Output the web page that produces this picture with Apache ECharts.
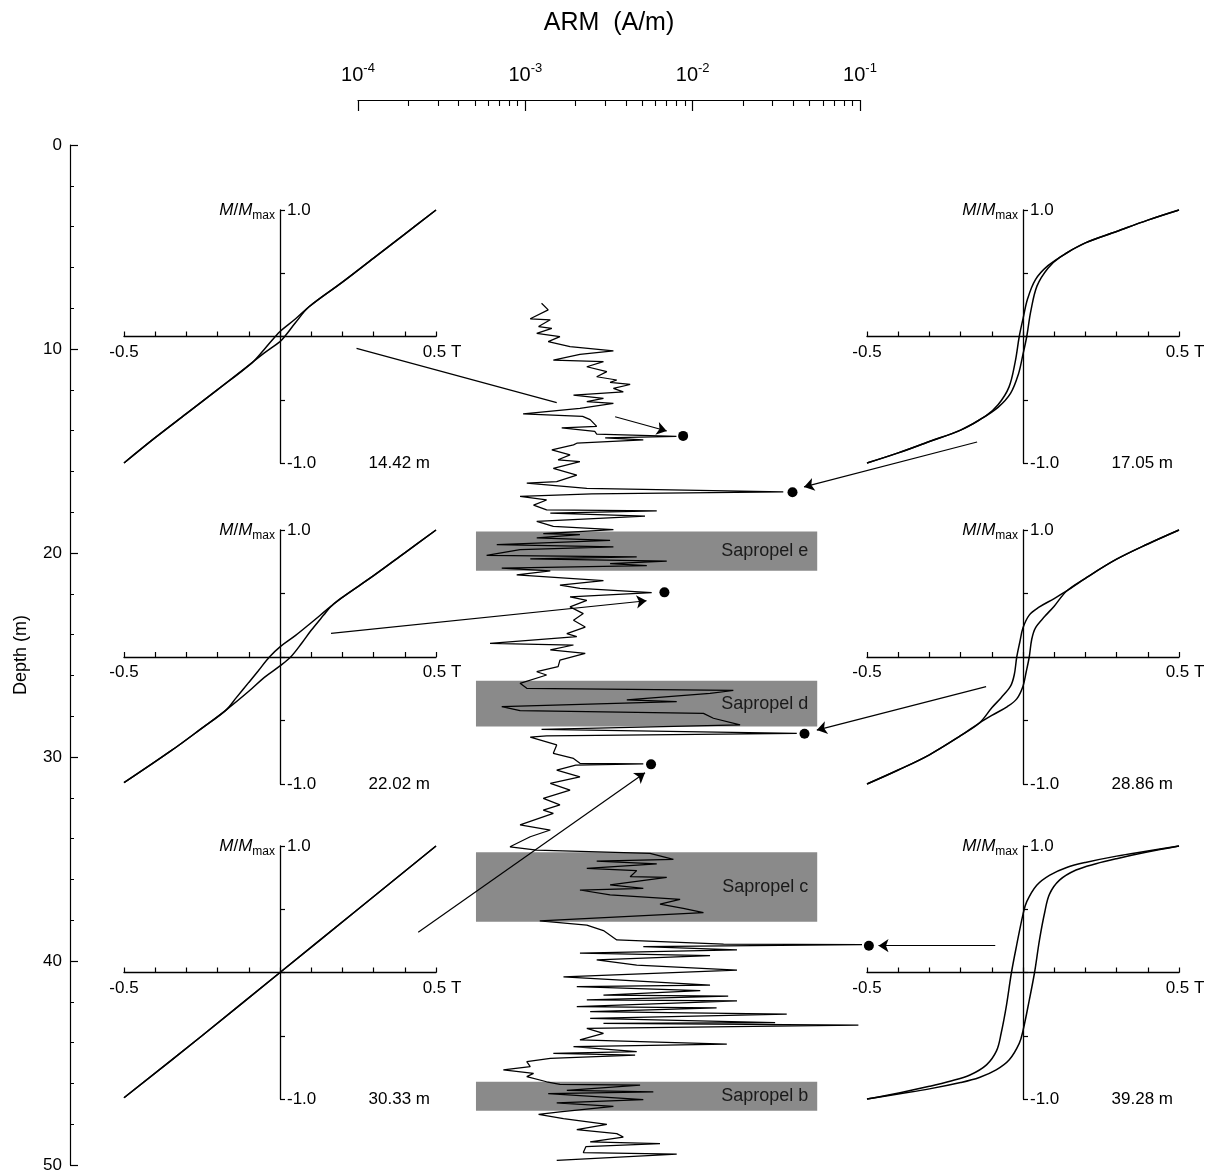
<!DOCTYPE html>
<html>
<head>
<meta charset="utf-8">
<script src="https://cdn.jsdelivr.net/npm/echarts@6/dist/echarts.min.js"></script>
<style>
  html, body { margin: 0; padding: 0; background: #fff; }
  #chart { width: 1211px; height: 1176px; }
</style>
</head>
<body>
<div id="chart"></div>
<script>
// ARM down-core log (depth in m, ARM in A/m)
const armDepth = [
  7.76, 8.08, 8.52, 8.57, 8.90, 8.99, 9.23, 9.39, 9.64, 9.88,
  10.09, 10.26, 10.54, 10.62, 10.87, 11.11, 11.36, 11.52, 11.64, 11.74,
  11.93, 12.10, 12.26, 12.42, 12.58, 12.66, 12.91, 13.18, 13.30, 13.46,
  13.79, 13.87, 14.04, 14.17, 14.28, 14.36, 14.46, 14.62, 14.70, 14.94,
  15.19, 15.43, 15.52, 15.85, 16.18, 16.50, 16.58, 16.83, 17.00, 17.10,
  17.23, 17.40, 17.65, 17.89, 17.94, 18.05, 18.19, 18.45, 18.69, 18.86,
  19.05, 19.10, 19.26, 19.38, 19.59, 19.70, 19.83, 20.12, 20.19, 20.29,
  20.40, 20.52, 20.62, 20.74, 20.88, 21.07, 21.35, 21.57, 21.73, 21.94,
  22.15, 22.32, 22.64, 22.97, 23.30, 23.63, 23.95, 24.10, 24.43, 24.51,
  24.75, 24.92, 25.25, 25.57, 25.82, 25.98, 26.39, 26.63, 26.74, 26.88,
  27.20, 27.28, 27.53, 27.73, 27.86, 28.10, 28.43, 28.64, 28.84, 28.97,
  29.03, 29.41, 29.82, 30.07, 30.31, 30.34, 30.40, 30.64, 30.97, 31.29,
  31.62, 32.03, 32.35, 32.60, 32.76, 33.33, 33.58, 33.91, 34.40, 34.56,
  34.72, 35.02, 35.10, 35.24, 35.46, 35.57, 35.87, 35.90, 36.27, 36.44,
  36.52, 36.76, 36.98, 37.21, 37.42, 37.63, 38.03, 38.24, 38.51, 38.97,
  39.17, 39.20, 39.30, 39.46, 39.62, 39.74, 39.95, 40.20, 40.45, 40.78,
  41.18, 41.26, 41.45, 41.67, 41.72, 41.91, 41.95, 42.24, 42.30, 42.48,
  42.61, 42.81, 43.02, 43.06, 43.14, 43.30, 43.55, 43.87, 44.07, 44.20,
  44.44, 44.53, 44.61, 44.77, 44.93, 45.18, 45.34, 45.51, 45.67, 45.92,
  46.05, 46.09, 46.34, 46.42, 46.50, 46.80, 46.96, 47.13, 47.40, 47.52,
  47.73, 48.01, 48.27, 48.46, 48.63, 48.87, 48.95, 49.10, 49.39, 49.47,
  49.77
];
const armValue = [
  1.25e-3, 1.37e-3, 1.07e-3, 1.41e-3, 1.20e-3, 1.44e-3, 1.17e-3, 1.61e-3, 1.37e-3, 1.85e-3,
  3.36e-3, 2.12e-3, 1.47e-3, 2.93e-3, 2.33e-3, 3.07e-3, 2.67e-3, 3.52e-3, 3.21e-3, 4.23e-3,
  3.36e-3, 3.85e-3, 1.94e-3, 2.93e-3, 2.33e-3, 3.36e-3, 2.12e-3, 9.7e-4, 2.20e-3, 2.44e-3,
  2.67e-3, 1.65e-3, 2.60e-3, 2.67e-3, 8.0e-3, 3.0e-3, 5.07e-3, 2.03e-3, 1.94e-3, 1.44e-3,
  1.85e-3, 1.57e-3, 2.12e-3, 1.47e-3, 2.03e-3, 1.54e-3, 1.02e-3, 2.33e-3, 3.48e-2, 2.5e-3,
  9.3e-4, 1.34e-3, 1.12e-3, 1.34e-3, 6.1e-3, 1.41e-3, 5.19e-3, 1.17e-3, 1.47e-3, 3.36e-3,
  1.28e-3, 2.12e-3, 1.17e-3, 3.21e-3, 6.75e-4, 3.36e-3, 9.3e-4, 5.87e-4, 4.63e-3, 1.07e-3,
  7.0e-3, 3.21e-3, 5.32e-3, 7.23e-4, 1.41e-3, 8.88e-4, 2.93e-3, 1.61e-3, 2.12e-3, 5.69e-3,
  1.85e-3, 2.33e-3, 1.85e-3, 2.22e-3, 1.94e-3, 2.28e-3, 1.77e-3, 2.03e-3, 6.15e-4, 1.94e-3,
  1.41e-3, 2.28e-3, 1.61e-3, 1.57e-3, 1.17e-3, 1.34e-3, 9.3e-4, 1.02e-3, 1.75e-2, 1.27e-2,
  4.04e-3, 8.03e-3, 7.23e-4, 9.3e-4, 1.16e-2, 1.33e-2, 1.92e-2, 1.25e-3, 4.19e-2, 1.34e-3,
  1.07e-3, 1.54e-3, 1.47e-3, 1.94e-3, 2.12e-3, 5.07e-3, 2.0e-3, 1.54e-3, 2.12e-3, 1.41e-3,
  1.85e-3, 1.28e-3, 1.61e-3, 1.28e-3, 1.47e-3, 9.3e-4, 1.41e-3, 1.07e-3, 8.1e-4, 1.17e-3,
  5.56e-3, 7.67e-3, 2.67e-3, 6.1e-3, 2.33e-3, 4.63e-3, 4.23e-3, 7.0e-3, 3.21e-3, 5.07e-3,
  2.12e-3, 3.21e-3, 8.41e-3, 6.38e-3, 8.79e-3, 1.16e-2, 1.22e-3, 2.33e-3, 2.93e-3, 3.52e-3,
  1.53e-2, 0.105, 5.07e-3, 1.84e-2, 2.12e-3, 1.27e-2, 2.67e-3, 4.63e-3, 1.84e-2, 1.69e-3,
  1.27e-2, 2.03e-3, 1.11e-2, 2.93e-3, 1.63e-2, 2.33e-3, 1.84e-2, 2.03e-3, 1.39e-2, 2.44e-3,
  3.65e-2, 2.44e-3, 3.11e-2, 2.93e-3, 9.78e-2, 2.33e-3, 2.93e-3, 2.12e-3, 1.60e-2, 1.94e-3,
  4.63e-3, 1.47e-3, 4.53e-3, 1.41e-3, 1.02e-3, 1.07e-3, 7.39e-4, 1.12e-3, 1.02e-3, 1.34e-3,
  1.61e-3, 4.85e-3, 1.77e-3, 5.82e-3, 1.37e-3, 5.07e-3, 1.54e-3, 3.36e-3, 1.61e-3, 1.20e-3,
  1.69e-3, 3.07e-3, 2.03e-3, 3.52e-3, 3.85e-3, 2.44e-3, 6.38e-3, 2.30e-3, 2.22e-3, 8.03e-3,
  1.54e-3
];

// sapropel layers
const sapropelNames = ['Sapropel e', 'Sapropel d', 'Sapropel c', 'Sapropel b'];
const sapropelTop = [18.95, 26.26, 34.67, 45.92];
const sapropelBase = [20.87, 28.51, 38.07, 47.34];
const sapropelArm = [5.07e-4, 5.55e-2];

// samples with hysteresis loops
const sampleLabels = ['14.42 m', '17.05 m', '22.02 m', '28.86 m', '30.33 m', '39.28 m'];
const sampleArm = [8.77e-3, 3.95e-2, 6.78e-3, 4.66e-2, 5.64e-3, 0.113];
const sampleDepth = [14.26, 17.02, 21.93, 28.86, 30.36, 39.25];

// arrows from the loops to the samples [arm, depth]
const arrowFrom = [[3.44e-3, 13.32], [0.501, 14.56], [6.9e-5, 23.94], [0.567, 26.55], [2.29e-4, 38.59], [0.643, 39.25]];
const arrowTo = [[7.0e-3, 14.02], [4.63e-2, 16.76], [5.3e-3, 22.34], [5.52e-2, 28.68], [5.19e-3, 30.77], [0.129, 39.25]];
const arrowGapFrom = [[9.8e-5, 9.97]];
const arrowGapTo = [[1.54e-3, 12.63]];

const armMinorTicks = [
  2e-4, 3e-4, 4e-4, 5e-4, 6e-4, 7e-4, 8e-4, 9e-4,
  2e-3, 3e-3, 4e-3, 5e-3, 6e-3, 7e-3, 8e-3, 9e-3,
  2e-2, 3e-2, 4e-2, 5e-2, 6e-2, 7e-2, 8e-2, 9e-2
];

// hysteresis branches [field T, M/Mmax]
const upper1442 = [[0.5, 1.0], [0.4, 0.81], [0.3, 0.62], [0.2, 0.43], [0.093, 0.235], [0.05, 0.14], [0.0, 0.04], [-0.015, 0.0], [-0.05, -0.1], [-0.091, -0.21], [-0.2, -0.42], [-0.3, -0.61], [-0.4, -0.8], [-0.5, -1.0]];
const lower1442 = [[-0.5, -1.0], [-0.4, -0.8], [-0.3, -0.61], [-0.2, -0.42], [-0.091, -0.21], [-0.05, -0.13], [0.0, -0.04], [0.015, 0.0], [0.05, 0.11], [0.093, 0.235], [0.2, 0.43], [0.3, 0.62], [0.4, 0.81], [0.5, 1.0]];
const upper1705 = [[0.5, 1.0], [0.4, 0.92], [0.3, 0.83], [0.2, 0.74], [0.14, 0.66], [0.08, 0.56], [0.04, 0.45], [0.015, 0.3], [0.0, 0.14], [-0.012, 0.0], [-0.025, -0.2], [-0.045, -0.4], [-0.08, -0.54], [-0.12, -0.63], [-0.2, -0.74], [-0.3, -0.83], [-0.4, -0.92], [-0.5, -1.0]];
const lower1705 = [[-0.5, -1.0], [-0.4, -0.92], [-0.3, -0.83], [-0.2, -0.74], [-0.14, -0.66], [-0.08, -0.56], [-0.04, -0.45], [-0.015, -0.3], [0.0, -0.14], [0.012, 0.0], [0.025, 0.2], [0.045, 0.4], [0.08, 0.54], [0.12, 0.63], [0.2, 0.74], [0.3, 0.83], [0.4, 0.92], [0.5, 1.0]];
const upper2202 = [[0.5, 1.0], [0.4, 0.82], [0.3, 0.64], [0.2, 0.47], [0.164, 0.40], [0.1, 0.27], [0.05, 0.17], [0.0, 0.08], [-0.034, 0.0], [-0.07, -0.11], [-0.1, -0.2], [-0.14, -0.32], [-0.174, -0.42], [-0.25, -0.56], [-0.35, -0.74], [-0.5, -0.99]];
const lower2202 = [[-0.5, -0.99], [-0.35, -0.74], [-0.25, -0.56], [-0.174, -0.42], [-0.1, -0.27], [-0.05, -0.16], [0.0, -0.07], [0.034, 0.0], [0.07, 0.11], [0.1, 0.21], [0.14, 0.33], [0.164, 0.40], [0.2, 0.47], [0.3, 0.64], [0.4, 0.82], [0.5, 1.0]];
const upper2886 = [[0.5, 1.0], [0.4, 0.89], [0.3, 0.77], [0.2, 0.62], [0.14, 0.52], [0.1, 0.46], [0.05, 0.39], [0.02, 0.33], [0.0, 0.23], [-0.01, 0.12], [-0.02, 0.0], [-0.028, -0.14], [-0.04, -0.23], [-0.07, -0.32], [-0.1, -0.4], [-0.14, -0.52], [-0.2, -0.62], [-0.3, -0.77], [-0.4, -0.89], [-0.5, -1.0]];
const lower2886 = [[-0.5, -1.0], [-0.4, -0.89], [-0.3, -0.77], [-0.2, -0.62], [-0.14, -0.52], [-0.1, -0.46], [-0.05, -0.39], [-0.02, -0.33], [0.0, -0.23], [0.01, -0.12], [0.02, 0.0], [0.028, 0.14], [0.04, 0.23], [0.07, 0.32], [0.1, 0.4], [0.14, 0.52], [0.2, 0.62], [0.3, 0.77], [0.4, 0.89], [0.5, 1.0]];
const upper3033 = [[0.5, 1.0], [0.25, 0.5], [0.0, 0.0], [-0.25, -0.5], [-0.5, -0.99]];
const lower3033 = [[-0.5, -0.99], [-0.25, -0.5], [0.0, 0.0], [0.25, 0.5], [0.5, 1.0]];
const upper3928 = [[0.5, 1.0], [0.4, 0.96], [0.3, 0.92], [0.2, 0.87], [0.14, 0.83], [0.086, 0.77], [0.044, 0.69], [0.012, 0.56], [0.0, 0.46], [-0.02, 0.22], [-0.037, 0.0], [-0.053, -0.26], [-0.07, -0.48], [-0.085, -0.62], [-0.117, -0.73], [-0.17, -0.81], [-0.234, -0.86], [-0.3, -0.9], [-0.394, -0.95], [-0.5, -1.0]];
const lower3928 = [[-0.5, -1.0], [-0.4, -0.96], [-0.3, -0.92], [-0.2, -0.87], [-0.14, -0.83], [-0.086, -0.77], [-0.044, -0.69], [-0.012, -0.56], [0.0, -0.46], [0.02, -0.22], [0.037, 0.0], [0.053, 0.26], [0.07, 0.48], [0.085, 0.62], [0.117, 0.73], [0.17, 0.81], [0.234, 0.86], [0.3, 0.9], [0.394, 0.95], [0.5, 1.0]];

const loopsUpper = [upper1442, upper1705, upper2202, upper2886, upper3033, upper3928];
const loopsLower = [lower1442, lower1705, lower2202, lower2886, lower3033, lower3928];

const FONT = '"Liberation Sans", Arial, Helvetica, sans-serif';
const ink = '#000';

// inset placement: left column / right column, three rows
const insetW = 312;
const insetPos = [
  { left: 124, top: 210, height: 253 },
  { left: 867, top: 210, height: 253 },
  { left: 124, top: 530, height: 254 },
  { left: 867, top: 530, height: 254 },
  { left: 124, top: 846, height: 253 },
  { left: 867, top: 846, height: 253 }
];

const near = (a, b) => Math.abs(a - b) < 1e-6;

const grids = [{ left: 358, top: 145, width: 502, height: 1020 }];
const xAxes = [
  {
    gridIndex: 0, type: 'log', logBase: 10, position: 'top', offset: 45,
    min: 1e-4, max: 1e-1,
    name: 'ARM  (A/m)', nameLocation: 'middle', nameGap: 64,
    nameTextStyle: { fontFamily: FONT, fontSize: 25, color: ink },
    axisLine: { show: true, onZero: false, lineStyle: { color: ink, width: 1.2 } },
    axisTick: { show: true, inside: true, length: 11, lineStyle: { color: ink, width: 1.2 } },
    axisLabel: {
      margin: 12, color: ink, fontFamily: FONT,
      formatter: v => '{b|10}{e|' + Math.round(Math.log10(v)) + '}',
      rich: {
        b: { fontSize: 20, lineHeight: 26, fontFamily: FONT, color: ink },
        e: { fontSize: 13, lineHeight: 13, verticalAlign: 'top', fontFamily: FONT, color: ink }
      }
    },
    splitLine: { show: false }
  },
  {
    gridIndex: 0, type: 'log', logBase: 10, position: 'top', offset: 45,
    min: 1e-4, max: 1e-1,
    axisLine: { show: false, onZero: false },
    axisTick: { show: true, inside: true, length: 6, customValues: armMinorTicks, lineStyle: { color: ink, width: 1.1 } },
    axisLabel: { show: false },
    splitLine: { show: false }
  }
];
const yAxes = [
  {
    gridIndex: 0, type: 'value', position: 'left', offset: 288,
    min: 0, max: 50, interval: 10, inverse: true,
    name: 'Depth (m)', nameLocation: 'middle', nameGap: 40, nameRotate: 90,
    nameTextStyle: { fontFamily: FONT, fontSize: 18, color: ink },
    axisLine: { show: true, onZero: false, lineStyle: { color: ink, width: 1.2 } },
    axisTick: { show: true, inside: true, length: 8, lineStyle: { color: ink, width: 1.2 } },
    minorTick: { show: true, splitNumber: 5, length: 4, lineStyle: { color: ink, width: 1 } },
    axisLabel: { fontFamily: FONT, fontSize: 17, color: ink, margin: 8 },
    splitLine: { show: false }
  }
];

const series = [
  {
    name: 'ARM', type: 'line', xAxisIndex: 0, yAxisIndex: 0,
    data: armValue.map((v, i) => [v, armDepth[i]]),
    showSymbol: false, clip: false, z: 3,
    lineStyle: { color: '#000', width: 1.25 },
    markArea: {
      silent: true,
      itemStyle: { color: '#8a8a8a', opacity: 1 },
      label: { show: true, position: 'insideRight', distance: 9, fontFamily: FONT, fontSize: 18, color: '#1a1a1a' },
      data: sapropelNames.map((n, i) => [
        { name: n, xAxis: sapropelArm[0], yAxis: sapropelTop[i] },
        { xAxis: sapropelArm[1], yAxis: sapropelBase[i] }
      ])
    }
  },
  {
    type: 'lines', coordinateSystem: 'cartesian2d', xAxisIndex: 0, yAxisIndex: 0,
    clip: false, z: 4,
    symbol: ['none', 'arrow'], symbolSize: 10,
    lineStyle: { color: '#000', width: 1.2, opacity: 1 },
    data: arrowFrom.map((p, i) => ({ coords: [p, arrowTo[i]] }))
  },
  {
    type: 'lines', coordinateSystem: 'cartesian2d', xAxisIndex: 0, yAxisIndex: 0,
    clip: false, z: 4,
    symbol: ['none', 'none'],
    lineStyle: { color: '#000', width: 1.2, opacity: 1 },
    data: arrowGapFrom.map((p, i) => ({ coords: [p, arrowGapTo[i]] }))
  },
  {
    type: 'scatter', xAxisIndex: 0, yAxisIndex: 0, clip: false, z: 5,
    symbolSize: 10, itemStyle: { color: '#000', opacity: 1 },
    data: sampleArm.map((v, i) => [v, sampleDepth[i]])
  }
];

insetPos.forEach((p, k) => {
  const g = k + 1;        // grid index
  const xi = xAxes.length; // inset x axis index
  const yi = yAxes.length; // inset y axis index
  grids.push({ left: p.left, top: p.top, width: insetW, height: p.height });
  // axes cross at the centre of each inset (offset pulls them inwards)
  xAxes.push({
    gridIndex: g, type: 'value', min: -0.5, max: 0.5, interval: 0.1,
    position: 'bottom', offset: -p.height / 2,
    axisLine: { onZero: false, lineStyle: { color: ink, width: 1.3 } },
    axisTick: { inside: true, length: 5, lineStyle: { color: ink, width: 1.2 } },
    axisLabel: {
      interval: 0, margin: 7, showMinLabel: true, showMaxLabel: true,
      fontFamily: FONT, fontSize: 17, color: ink,
      formatter: v => near(v, 0.5) ? '{t|0.5 T}' : (near(v, -0.5) ? '-0.5' : ''),
      rich: { t: { fontFamily: FONT, fontSize: 17, color: ink, padding: [0, 0, 0, 12] } }
    },
    splitLine: { show: false }
  });
  yAxes.push({
    gridIndex: g, type: 'value', min: -1, max: 1, interval: 0.5,
    position: 'left', offset: -insetW / 2,
    axisLine: { onZero: false, lineStyle: { color: ink, width: 1.3 } },
    axisTick: { inside: true, length: 5, lineStyle: { color: ink, width: 1.2 } },
    axisLabel: {
      inside: true, margin: 7, fontFamily: FONT, fontSize: 17, color: ink,
      showMinLabel: true, showMaxLabel: true,
      formatter: v => near(v, 1) ? '1.0' : (near(v, -1) ? '-1.0' : '')
    },
    name: '{i|M}{n|/}{i|M}{s|max}', nameLocation: 'end', nameGap: 0,
    nameTextStyle: {
      align: 'right', verticalAlign: 'middle', padding: [0, 5, 0, 0],
      rich: {
        i: { fontFamily: FONT, fontStyle: 'italic', fontSize: 17, lineHeight: 24, color: ink },
        n: { fontFamily: FONT, fontSize: 17, lineHeight: 24, color: ink },
        s: { fontFamily: FONT, fontSize: 12, lineHeight: 12, verticalAlign: 'bottom', color: ink }
      }
    },
    splitLine: { show: false }
  });
  [loopsUpper[k], loopsLower[k]].forEach(branch => {
    series.push({
      type: 'line', xAxisIndex: xi, yAxisIndex: yi, data: branch,
      showSymbol: false, clip: false, smooth: 0.35,
      lineStyle: { color: '#000', width: 1.5 }
    });
  });
  series.push({
    type: 'scatter', xAxisIndex: xi, yAxisIndex: yi, symbolSize: 0,
    itemStyle: { color: '#000', opacity: 1 },
    data: [[0.5, -1.0]],
    label: {
      show: true, position: 'left', distance: 6, formatter: sampleLabels[k],
      fontFamily: FONT, fontSize: 17, color: '#000', opacity: 1, textBorderWidth: 0
    }
  });
});

const chart = echarts.init(document.getElementById('chart'));
chart.setOption({
  animation: false,
  backgroundColor: '#fff',
  textStyle: { fontFamily: FONT },
  grid: grids,
  xAxis: xAxes,
  yAxis: yAxes,
  series: series
});
window.addEventListener('resize', () => chart.resize());
</script>
</body>
</html>
